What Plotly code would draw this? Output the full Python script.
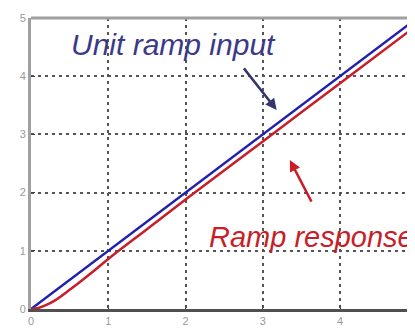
import plotly.graph_objects as go

t_input = [0, 1, 2, 3, 4, 5]
unit_ramp = [0, 1, 2, 3, 4, 5]

t_resp = [0, 0.1, 0.2, 0.3, 0.4, 0.5, 0.6, 0.8, 1.0, 1.5, 2, 3, 4, 5]
ramp_resp = [0, 0.02, 0.07, 0.14, 0.23, 0.33, 0.43, 0.64, 0.86, 1.37, 1.88, 2.88, 3.88, 4.88]

x_ticks = [0, 1, 2, 3, 4]
y_ticks = [0, 1, 2, 3, 4, 5]

fig = go.Figure()
fig.add_trace(go.Scatter(x=t_input, y=unit_ramp, mode="lines",
                         line=dict(color="#2020b0", width=2.5), cliponaxis=True))
fig.add_trace(go.Scatter(x=t_resp, y=ramp_resp, mode="lines", line_shape="spline",
                         line=dict(color="#c81e28", width=2.5), cliponaxis=True))

# top frame line
fig.add_shape(type="line", xref="paper", yref="paper", x0=0, x1=1, y0=1, y1=1,
              line=dict(color="#a0a0a0", width=3))

fig.add_annotation(x=0.49, y=4.55, xref="x", yref="y", text="<i>Unit ramp input</i>",
                   showarrow=False, xanchor="left", yanchor="middle",
                   font=dict(family="Liberation Sans, Arial", size=30, color="#3a3a88"))
fig.add_annotation(x=2.28, y=0.93, xref="x", yref="y", text="<i>Ramp response</i>",
                   showarrow=False, xanchor="left", yanchor="bottom",
                   font=dict(family="Liberation Sans, Arial", size=29, color="#c81e28"))

# arrows
fig.add_annotation(x=3.18, y=3.42, ax=2.74, ay=4.16, xref="x", yref="y", axref="x", ayref="y",
                   text="", showarrow=True, arrowhead=2, arrowsize=0.9, arrowwidth=2.5,
                   arrowcolor="#35356a")
fig.add_annotation(x=3.35, y=2.56, ax=3.64, ay=1.82, xref="x", yref="y", axref="x", ayref="y",
                   text="", showarrow=True, arrowhead=2, arrowsize=0.9, arrowwidth=2.5,
                   arrowcolor="#c81e28")

# page body has an 8px margin; size and margins compensate so the plot lands where the reference has it
fig.update_layout(
    width=407, height=322,
    margin=dict(l=23, r=0, t=10, b=21),
    paper_bgcolor="white", plot_bgcolor="white",
    showlegend=False,
    xaxis=dict(range=[0, 4.97], tickvals=x_ticks, showgrid=True, gridcolor="#555555",
               griddash="3px,4px", gridwidth=1.5, zeroline=False, automargin=False,
               showline=True, linecolor="#505050", linewidth=3,
               ticks="inside", ticklen=4, tickcolor="#444444", ticklabelstandoff=0,
               tickfont=dict(family="Liberation Sans, Arial", size=11, color="#9a9a9a")),
    yaxis=dict(range=[0, 5], tickvals=y_ticks, showgrid=True, gridcolor="#555555",
               griddash="3px,4px", gridwidth=1.5, zeroline=False, automargin=False,
               showline=True, linecolor="#a0a0a0", linewidth=3,
               ticks="inside", ticklen=4, tickcolor="#444444",
               tickfont=dict(family="Liberation Sans, Arial", size=11, color="#9a9a9a")),
)

fig.write_html("out.html")
